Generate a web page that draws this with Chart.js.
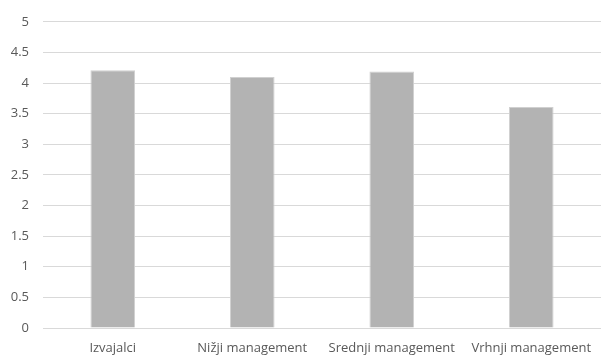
<!DOCTYPE html>
<html>
<head>
<meta charset="utf-8">
<script src="https://cdn.jsdelivr.net/npm/chart.js@4"></script>
<style>
  html, body { margin: 0; padding: 0; background: #fff; }
  #wrap { width: 603px; height: 355px; }
</style>
</head>
<body>
<div id="wrap"><canvas id="chart"></canvas></div>
<script>
// data
const categories = ['Izvajalci', 'Nižji management', 'Srednji management', 'Vrhnji management'];
const scores = [4.21, 4.1, 4.19, 3.61];
const yTicks = [0, 0.5, 1, 1.5, 2, 2.5, 3, 3.5, 4, 4.5, 5];

const FONT = "'Open Sans', 'Noto Sans', sans-serif";
const TEXT = '#595959';

const ctx = document.getElementById('chart').getContext('2d');

new Chart(ctx, {
    type: 'bar',
    data: {
        labels: categories,
        datasets: [{
            data: scores,
            backgroundColor: '#b3b3b3',
            borderColor: '#d0d0d0',
            borderWidth: 1,
            categoryPercentage: 1,
            barPercentage: 0.32
        }]
    },
    options: {
        responsive: true,
        maintainAspectRatio: false,
        animation: false,
        layout: { padding: { top: 15, right: 2, left: 0, bottom: 0 } },
        plugins: {
            legend: { display: false },
            tooltip: { enabled: false }
        },
        scales: {
            x: {
                grid: { display: false },
                border: { display: false },
                ticks: {
                    color: TEXT,
                    font: { family: FONT, size: 13 },
                    padding: 4,
                    maxRotation: 0,
                    autoSkip: false
                },
                afterFit(scale) { scale.height = 27; }
            },
            y: {
                min: 0,
                max: 5,
                afterBuildTicks(scale) {
                    scale.ticks = yTicks.map(v => ({ value: v }));
                },
                grid: { color: '#d9d9d9', lineWidth: 1, drawTicks: false },
                border: { display: false },
                ticks: {
                    color: TEXT,
                    font: { family: FONT, size: 13 },
                    padding: 14,
                    callback: function(value) {
                        return String(value);
                    }
                },
                afterFit(scale) { scale.width = 43; }
            }
        }
    }
});
</script>
</body>
</html>
